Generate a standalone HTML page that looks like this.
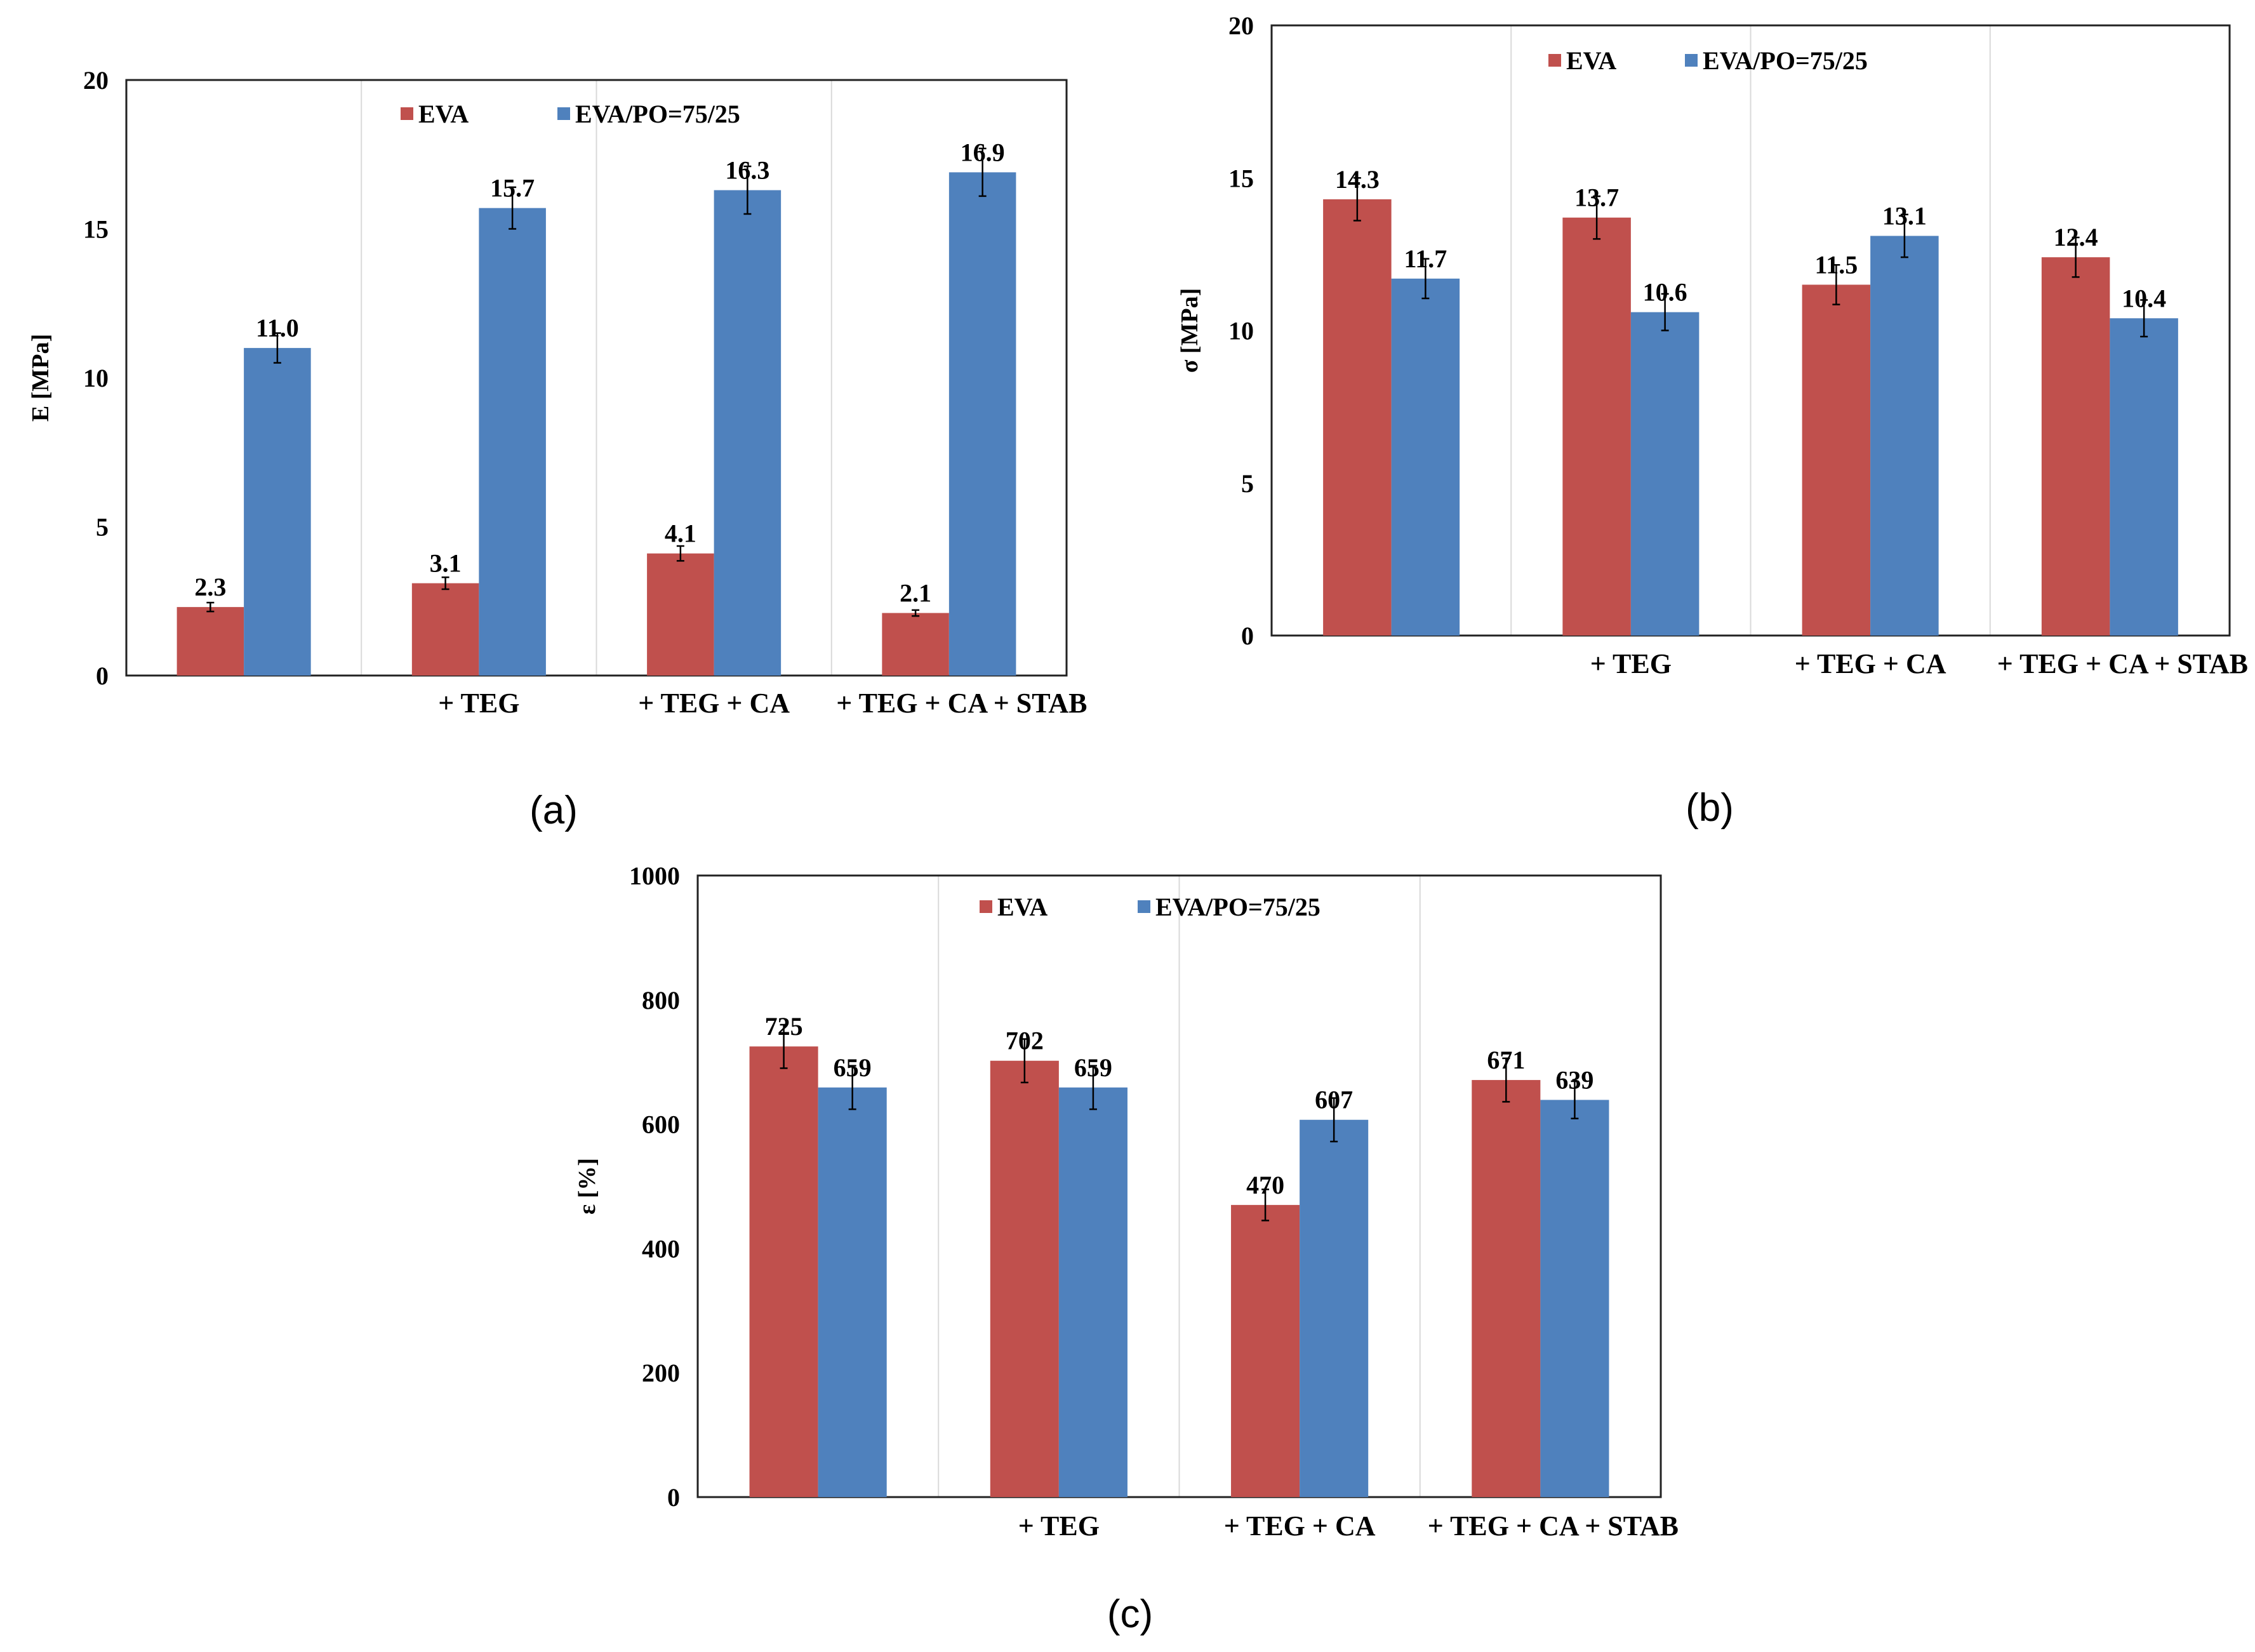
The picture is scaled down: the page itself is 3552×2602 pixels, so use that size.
<!DOCTYPE html>
<html><head><meta charset="utf-8"><style>
html,body{margin:0;padding:0;background:#fff}
svg{display:block}
text{font-family:"Liberation Serif",serif;font-weight:bold;fill:#000}
</style></head><body>
<svg id="fig" width="3552" height="2602" viewBox="0 0 3552 2602" xmlns="http://www.w3.org/2000/svg"></svg>
<script>
const categories = ["", "+ TEG", "+ TEG + CA", "+ TEG + CA + STAB"];
const seriesNames = ["EVA", "EVA/PO=75/25"];
const aEVA = [2.3, 3.1, 4.1, 2.1];
const aPO = [11.0, 15.7, 16.3, 16.9];
const aErrEVA = [0.15, 0.2, 0.25, 0.1];
const aErrPO = [0.5, 0.7, 0.8, 0.8];
const aLabelsEVA = ["2.3", "3.1", "4.1", "2.1"];
const aLabelsPO = ["11.0", "15.7", "16.3", "16.9"];
const aTicks = [0, 5, 10, 15, 20];
const bEVA = [14.3, 13.7, 11.5, 12.4];
const bPO = [11.7, 10.6, 13.1, 10.4];
const bErrEVA = [0.7, 0.7, 0.65, 0.65];
const bErrPO = [0.65, 0.6, 0.7, 0.6];
const bLabelsEVA = ["14.3", "13.7", "11.5", "12.4"];
const bLabelsPO = ["11.7", "10.6", "13.1", "10.4"];
const bTicks = [0, 5, 10, 15, 20];
const cEVA = [725, 702, 470, 671];
const cPO = [659, 659, 607, 639];
const cErrEVA = [35, 35, 25, 35];
const cErrPO = [35, 35, 35, 30];
const cLabelsEVA = ["725", "702", "470", "671"];
const cLabelsPO = ["659", "659", "607", "639"];
const cTicks = [0, 200, 400, 600, 800, 1000];

const NS = "http://www.w3.org/2000/svg";
const svg = document.getElementById("fig");
function mk(tag, attrs, parent) {
  const e = document.createElementNS(NS, tag);
  for (const k in attrs) e.setAttribute(k, attrs[k]);
  (parent || svg).appendChild(e);
  return e;
}
const RED = "#C0504D", BLUE = "#4F81BD";

function chart(id, L, R, T, B, ticks, v1, v2, e1, e2, l1, l2, ytitle, ytx, legY, legX1, legX2, xlabY, panel, px, py) {
  const g = mk("g", {});
  
  
  const ymax = ticks[ticks.length - 1];
  const y = v => B - (v / ymax) * (B - T);
  const cw = (R - L) / categories.length;
  const bw = cw * 0.285;
  for (let i = 1; i < categories.length; i++) {
    const s = mk("line", {x1: L + cw * i, x2: L + cw * i, y1: T, y2: B, stroke: "#d9d9d9", "stroke-width": 2}, g);
    
    
  }
  const frame = mk("rect", {x: L, y: T, width: R - L, height: B - T, fill: "none", stroke: "#222", "stroke-width": 3}, g);
  
  
  ticks.forEach(t => {
    const tx = mk("text", {x: L - 28, y: y(t) + 14, "text-anchor": "end", "font-size": 40}, g);
    tx.textContent = t;
    
    
  });
  const series = [[v1, e1, l1, RED], [v2, e2, l2, BLUE]];
  categories.forEach((c, i) => {
    const cx = L + cw * (i + 0.5);
    series.forEach((s, k) => {
      const x0 = cx - bw + k * bw;
      const r = mk("rect", {x: x0, y: y(s[0][i]), width: bw, height: B - y(s[0][i]), fill: s[3]}, g);
      
      
      const mx = x0 + bw / 2, yt = y(s[0][i] + s[1][i]), yb = y(s[0][i] - s[1][i]);
      const eb = mk("path", {d: `M${mx},${yt}V${yb}M${mx-6},${yt}H${mx+6}M${mx-6},${yb}H${mx+6}`, stroke: "#000", "stroke-width": 2.5, fill: "none"}, g);
      
      
      const lt = mk("text", {x: mx, y: y(s[0][i]) - 18, "text-anchor": "middle", "font-size": 40}, g);
      lt.textContent = s[2][i];
      
      
    });
    if (c) {
      const xl = mk("text", {x: cx + (i === 3 ? 20 : 0), y: xlabY + 15, "text-anchor": "middle", "font-size": 44}, g);
      xl.textContent = c;
      
      
    }
  });
  const yt = mk("text", {x: 0, y: 0, "text-anchor": "middle", "font-size": 38, transform: `translate(${ytx},${(T + B) / 2}) rotate(-90)`}, g);
  yt.textContent = ytitle;
  
  
  [[legX1, RED, seriesNames[0]], [legX2, BLUE, seriesNames[1]]].forEach(le => {
    const sq = mk("rect", {x: le[0], y: legY - 10, width: 20, height: 20, fill: le[1]}, g);
    
    
    const lt = mk("text", {x: le[0] + 28, y: legY + 14, "font-size": 40}, g);
    lt.textContent = le[2];
    
    
  });
  const pl = mk("text", {x: px, y: py + 20, "text-anchor": "middle", "font-size": 62, style: "font-family:'Liberation Sans',sans-serif;font-weight:normal"}, g);
  pl.textContent = panel;
  
  
}
chart("chart-a-modulus", 199, 1680, 126, 1064, aTicks, aEVA, aPO, aErrEVA, aErrPO, aLabelsEVA, aLabelsPO, "E [MPa]", 76, 179, 631, 878, 1107, "(a)", 872, 1277);
chart("chart-b-strength", 2003, 3512, 40, 1001, bTicks, bEVA, bPO, bErrEVA, bErrPO, bLabelsEVA, bLabelsPO, "σ [MPa]", 1886, 95, 2439, 2654, 1045, "(b)", 2693, 1273);
chart("chart-c-elongation", 1099, 2616, 1379, 2358, cTicks, cEVA, cPO, cErrEVA, cErrPO, cLabelsEVA, cLabelsPO, "ε [%]", 937, 1428, 1543, 1792, 2403, "(c)", 1780, 2543);
</script>
</body></html>
